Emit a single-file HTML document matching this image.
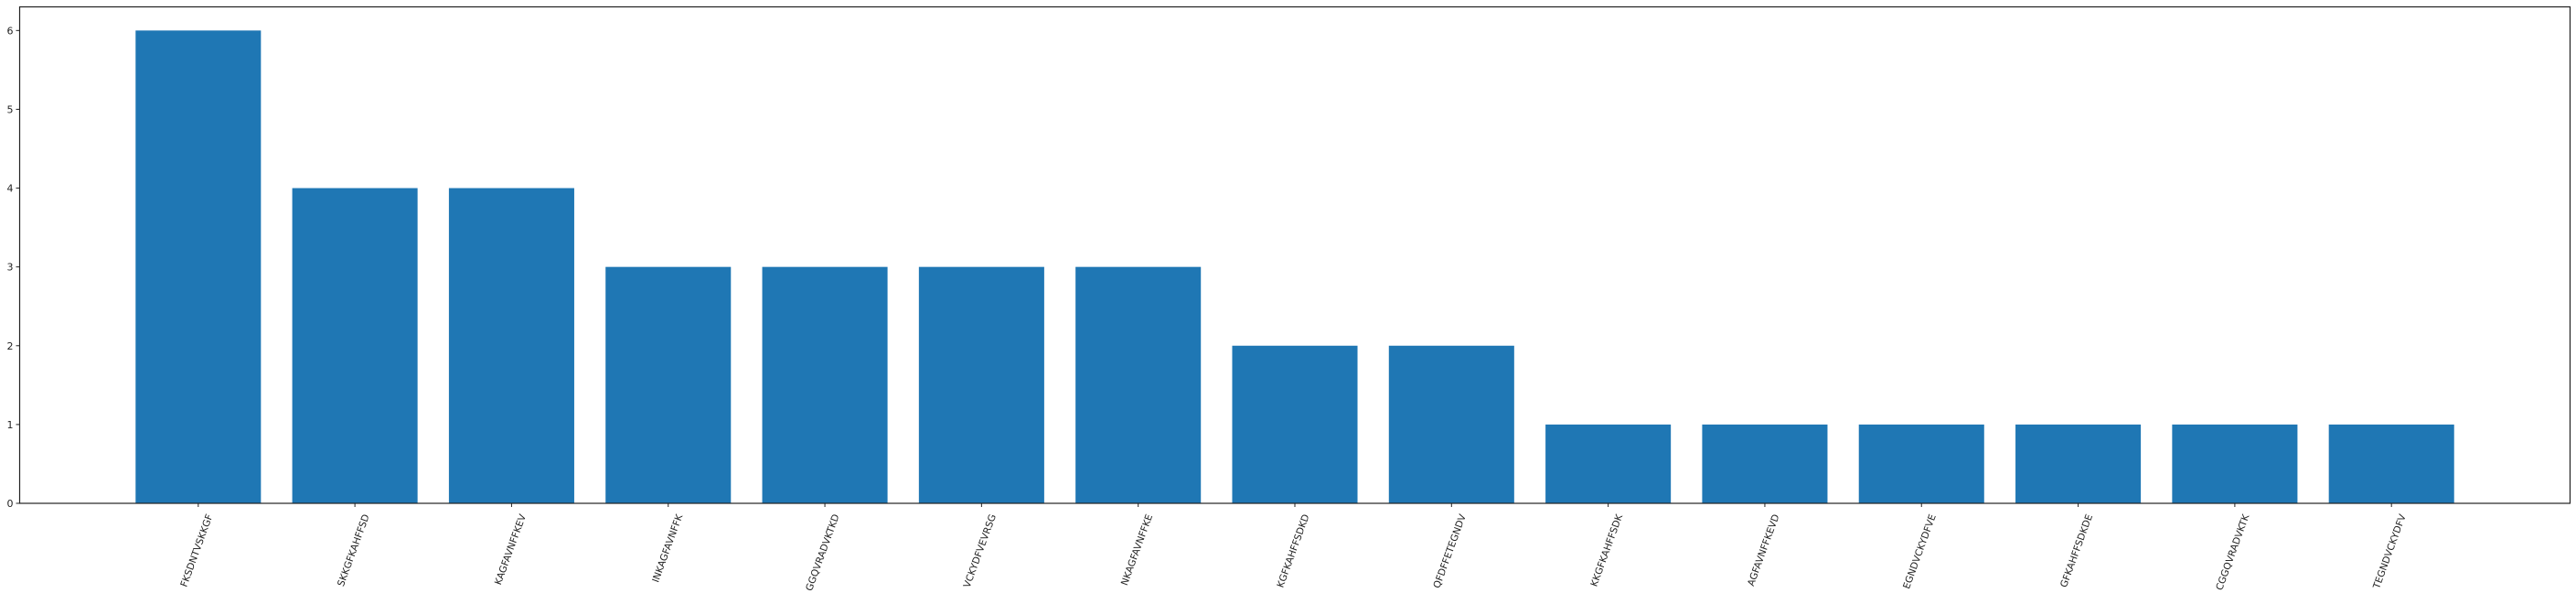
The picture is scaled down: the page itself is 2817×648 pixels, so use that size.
<!DOCTYPE html>
<html><head><meta charset="utf-8"><style>
html,body{margin:0;padding:0;background:#fff;}
svg{display:block;font-family:"DejaVu Sans","Liberation Sans",sans-serif;}
</style></head><body>
<svg id="chart" width="2817" height="648" viewBox="0 0 2817 648" xmlns="http://www.w3.org/2000/svg">
<rect x="0" y="0" width="2817" height="648" fill="#fff"/>
<g id="bars"></g>
<g id="yticks"></g>
<g id="xticks"></g>
<rect x="21.5" y="7.5" width="2789" height="542.5" fill="none" stroke="#222" stroke-width="1.2"/>
</svg>
<script>
const categories = ["FKSDNTVSKKGF","SKKGFKAHFFSD","KAGFAVNFFKEV","INKAGFAVNFFK","GGQVRADVKTKD","VCKYDFVEVRSG","NKAGFAVNFFKE","KGFKAHFFSDKD","QFDFFETEGNDV","KKGFKAHFFSDK","AGFAVNFFKEVD","EGNDVCKYDFVE","GFKAHFFSDKDE","CGGQVRADVKTK","TEGNDVCKYDFV"];
const values = [6,4,4,3,3,3,3,2,2,1,1,1,1,1,1];
const yTickValues = [0,1,2,3,4,5,6];

const NS = "http://www.w3.org/2000/svg";
const plotLeft = 21.5, plotRight = 2810.5, plotTop = 7.5, plotBottom = 550;
const xMin = -1.14, xMax = categories.length - 1 + 1.14;
const yMax = 6.3;
function xScale(i){ return plotLeft + (i - xMin) / (xMax - xMin) * (plotRight - plotLeft); }
function yScale(v){ return plotBottom - v / yMax * (plotBottom - plotTop); }
const unit = xScale(1) - xScale(0);
const barW = unit * 0.8;

const gb = document.getElementById('bars');
values.forEach((v, i) => {
  const r = document.createElementNS(NS, 'rect');
  r.setAttribute('x', xScale(i) - barW / 2);
  r.setAttribute('y', yScale(v));
  r.setAttribute('width', barW);
  r.setAttribute('height', yScale(0) - yScale(v));
  r.setAttribute('fill', '#1f77b4');
  
  
  gb.appendChild(r);
});

const gy = document.getElementById('yticks');
yTickValues.forEach(t => {
  const y = yScale(t);
  const l = document.createElementNS(NS, 'line');
  l.setAttribute('x1', plotLeft - 4); l.setAttribute('x2', plotLeft);
  l.setAttribute('y1', y); l.setAttribute('y2', y);
  l.setAttribute('stroke', '#222');
  
  
  gy.appendChild(l);
  const tx = document.createElementNS(NS, 'text');
  tx.setAttribute('x', plotLeft - 7); tx.setAttribute('y', y + 4);
  tx.setAttribute('text-anchor', 'end');
  tx.setAttribute('font-size', '11');
  tx.setAttribute('fill', '#222');
  tx.textContent = t;
  
  
  gy.appendChild(tx);
});

const gx = document.getElementById('xticks');
categories.forEach((c, i) => {
  const x = xScale(i);
  const l = document.createElementNS(NS, 'line');
  l.setAttribute('x1', x); l.setAttribute('x2', x);
  l.setAttribute('y1', plotBottom); l.setAttribute('y2', plotBottom + 4);
  l.setAttribute('stroke', '#222');
  
  
  gx.appendChild(l);
  const tx = document.createElementNS(NS, 'text');
  tx.setAttribute('transform', 'translate(' + (x + 9) + ',561) rotate(-70)');
  tx.setAttribute('text-anchor', 'end');
  tx.setAttribute('dominant-baseline', 'hanging');
  tx.setAttribute('font-size', '10.5');
  tx.setAttribute('fill', '#222');
  tx.textContent = c;
  
  
  gx.appendChild(tx);
});
</script>
</body></html>
